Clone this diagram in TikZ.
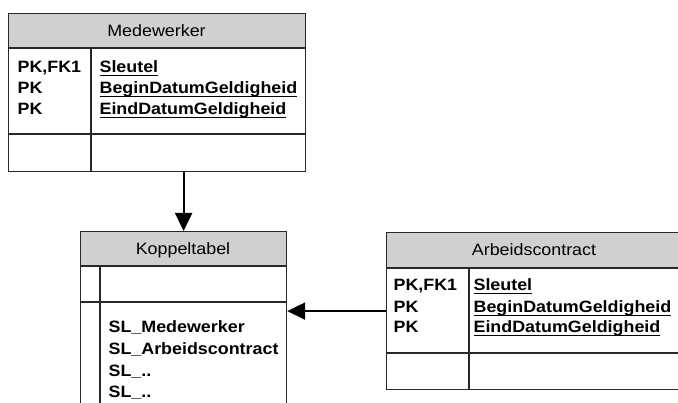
\documentclass[tikz,border=0pt]{standalone}
\usepackage{fontspec}
\setmainfont{Liberation Sans}[FakeStretch=1.09]
\usetikzlibrary{arrows.meta}
\definecolor{hdrgray}{RGB}{208,208,208}
\definecolor{edge}{RGB}{40,40,40}
\newcommand\myul[1]{\setbox0\hbox{#1}\rlap{\rule[-2.8pt]{\wd0}{1.2pt}}\box0}
\begin{document}
\begin{tikzpicture}[x=1pt,y=-1pt,line width=1.2pt,
  tbl/.style={draw=edge,inner sep=0pt,anchor=north west},
  hdr/.style={fill=hdrgray},
  sepline/.style={draw=edge},
  arr/.style={draw=black,line width=2pt,-{Triangle[length=18pt,width=17pt]}},
  txt/.style={inner sep=0pt,anchor=base west,font=\fontsize{16.4}{21}\selectfont\bfseries},
  ttl/.style={inner sep=0pt,anchor=base,font=\fontsize{16.4}{21}\selectfont}]
\useasboundingbox (0,0) rectangle (678,403);
\fill[white] (0,0) rectangle (678,403);
% headers
\fill[hdr] (8,13) rectangle (305,48);
\fill[hdr] (80,231) rectangle (286,266);
\fill[hdr] (386,232) rectangle (682,268);
% tables
\node[tbl,minimum width=297pt,minimum height=158pt] (med) at (8,13) {};
\node[tbl,minimum width=206pt,minimum height=189pt] (kop) at (80,231) {};
\node[tbl,minimum width=296pt,minimum height=157pt] (arb) at (386,232) {};
% internal lines
\draw[sepline] (8,48) -- (305,48) (8,134) -- (305,134) (91,48) -- (91,171);
\draw[sepline] (80,266) -- (286,266) (80,302) -- (286,302) (100,266) -- (100,420);
\draw[sepline] (386,268) -- (682,268) (386,353) -- (682,353) (469,268) -- (469,389);
% titles
\node[ttl] (medt) at (156.5,36.5) {Medewerker};
\node[ttl] (kopt) at (183,254.5) {Koppeltabel};
\node[ttl] (arbt) at (534,256) {Arbeidscontract};
% Medewerker fields
\node[txt] (m1) at (17,73) {PK,FK1};
\node[txt] (m2) at (17,94) {PK};
\node[txt] (m3) at (17,115) {PK};
\node[txt] (m4) at (99,73) {\myul{Sleutel}};
\node[txt] (m5) at (99,94) {\myul{BeginDatumGeldigheid}};
\node[txt] (m6) at (99,115) {\myul{EindDatumGeldigheid}};
% Koppeltabel fields
\node[txt] (k1) at (108,333) {SL\_Medewerker};
\node[txt] (k2) at (108,355) {SL\_Arbeidscontract};
\node[txt] (k3) at (108,377) {SL\_..};
\node[txt] (k4) at (108,398) {SL\_..};
% Arbeidscontract fields
\node[txt] (a1) at (393,291) {PK,FK1};
\node[txt] (a2) at (393,313) {PK};
\node[txt] (a3) at (393,333) {PK};
\node[txt] (a4) at (473,291) {\myul{Sleutel}};
\node[txt] (a5) at (473,313) {\myul{BeginDatumGeldigheid}};
\node[txt] (a6) at (473,333) {\myul{EindDatumGeldigheid}};
% connectors
\draw[arr] (med.south -| kop.north) -- (kop.north);
\draw[arr] (arb.west) -- (arb.west -| kop.east);
\end{tikzpicture}
\end{document}
